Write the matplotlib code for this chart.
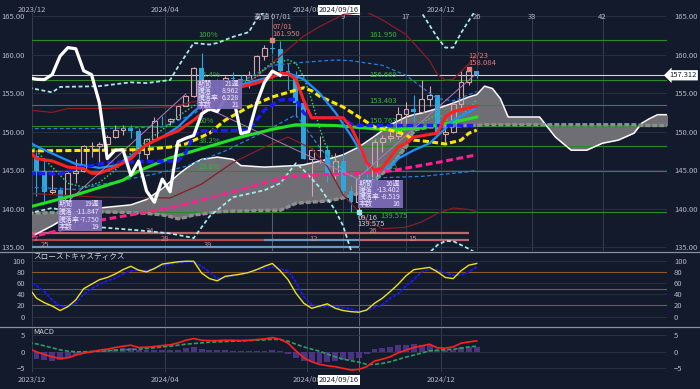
import numpy as np
import matplotlib.pyplot as plt
from matplotlib.lines import Line2D
from matplotlib.patches import Rectangle
from matplotlib.ticker import FormatStrFormatter

plt.rcParams['font.family'] = ['Noto Sans CJK JP', 'DejaVu Sans']

# weekly candles, week 0 = 2023-12-04 ... week 56 = 2024-12-30
opens = [146.8, 144.9, 142.15, 142.4, 141.0, 144.6, 144.9, 148.1, 148.15, 148.4,
         149.3, 150.2, 150.5, 150.1, 147.1, 149.0, 151.4, 151.35, 151.6, 153.3,
         154.6, 158.3, 152.9, 155.8, 155.65, 157.0, 156.8, 156.75, 157.4, 159.8,
         160.9, 160.75, 157.9, 157.4, 153.75, 146.5, 147.6, 147.65, 144.35, 146.2,
         142.3, 140.85, 143.85, 142.2, 148.7, 149.15, 149.5, 152.3, 152.95, 152.6,
         154.3, 154.7, 149.75, 150.0, 153.65, 156.4, 157.85]
highs = [147.3, 146.6, 144.95, 142.8, 145.0, 146.4, 148.3, 148.7, 148.6, 149.6,
         150.9, 150.8, 150.8, 150.5, 149.2, 151.85, 151.97, 151.8, 153.4, 154.8,
         158.4, 160.2, 155.95, 156.8, 157.2, 157.7, 157.3, 157.9, 159.9, 161.3,
         161.95, 161.7, 158.9, 157.9, 154.2, 147.9, 149.4, 148.3, 147.2, 147.2,
         143.1, 144.5, 146.5, 149.0, 149.55, 150.3, 153.2, 153.9, 154.7, 156.75,
         155.9, 154.75, 151.2, 154.0, 157.9, 158.084, 157.9]
lows = [141.6, 140.95, 141.9, 140.25, 140.8, 143.4, 144.8, 146.65, 145.9, 147.6,
        149.2, 149.6, 149.2, 146.5, 146.5, 148.9, 150.8, 150.8, 151.6, 153.3,
        154.5, 151.9, 152.7, 153.6, 155.4, 155.4, 154.55, 155.7, 157.2, 159.3,
        160.2, 157.4, 155.4, 151.9, 146.4, 141.7, 145.9, 143.45, 143.8, 141.75,
        139.6, 139.575, 142.0, 141.65, 147.35, 148.85, 149.1, 151.0, 151.3, 152.6,
        153.3, 149.5, 148.65, 149.8, 153.1, 156.0, 157.0]
closes = [144.9, 142.15, 142.4, 141.0, 144.6, 144.9, 148.1, 148.15, 148.4, 149.3,
          150.2, 150.5, 150.1, 147.1, 149.0, 151.4, 151.35, 151.6, 153.3, 154.6,
          158.3, 152.9, 155.8, 155.65, 157.0, 156.8, 156.75, 157.4, 159.8, 160.9,
          160.75, 157.9, 157.4, 153.75, 146.5, 147.6, 147.65, 144.35, 146.2, 142.3,
          140.85, 143.85, 142.2, 148.7, 149.15, 149.5, 152.3, 152.95, 152.6, 154.3,
          154.7, 149.75, 150.0, 153.65, 156.4, 157.85, 157.312]

# ichimoku cloud (leading spans, already shifted forward)
cloud_wk = [-1, 2, 4, 8, 12, 14, 16, 17, 18, 19, 20, 21, 23, 25, 26, 29, 31, 33, 34, 37,
            39, 41, 43, 45, 47, 48, 49, 50, 51, 53, 55, 56, 57, 58, 59, 60, 64, 65, 66, 68,
            70, 72, 74, 76, 77, 78, 79, 81]
span_a = [136.2, 137.8, 139.0, 140.1, 140.5, 141.2, 142.6, 143.5, 144.4, 145.2, 145.9, 146.4,
          146.7, 146.4, 145.6, 145.4, 145.5, 145.6, 145.7, 146.4, 147.0, 148.0, 149.4, 150.9,
          151.9, 152.2, 152.4, 152.7, 153.0, 153.7, 154.5, 154.8, 155.9, 155.6, 154.3, 151.9,
          151.9, 150.6, 149.3, 147.6, 147.6, 148.5, 148.9, 149.8, 151.1, 151.7, 152.2, 152.2]
span_b = [139.4, 139.5, 139.5, 139.6, 139.5, 139.4, 139.2, 139.0, 138.7, 138.9, 139.2, 139.3,
          139.6, 139.7, 139.7, 139.8, 139.8, 140.7, 140.8, 141.0, 141.4, 142.0, 143.7, 145.4,
          148.0, 150.2, 150.4, 150.6, 150.6, 150.7, 150.8, 150.8, 150.9, 150.9, 150.9, 150.9,
          150.9, 150.9, 150.9, 150.9, 150.9, 150.9, 150.9, 150.9, 150.8, 150.8, 150.8, 150.8]

tenkan_wk = [-1, 0, 2, 4, 6, 7, 8, 10, 12, 13, 14, 16, 18, 20, 21, 23, 26, 28, 30, 31,
             32, 33, 34, 35, 39, 40, 41, 42, 43, 44, 45, 46, 47, 48, 51, 52, 53, 55, 56]
tenkan = [147.6, 146.5, 146.2, 145.4, 145.2, 144.6, 144.6, 145.4, 146.5, 147.5, 148.3, 149.3,
          150.1, 151.5, 152.3, 154.3, 155.8, 156.3, 157.1, 157.6, 157.5, 156.8, 154.0, 151.8,
          151.8, 150.6, 148.5, 146.0, 145.0, 145.3, 146.7, 148.0, 148.5, 149.3, 149.8, 151.9,
          152.6, 153.1, 153.3]
kijun_wk = [-1, 3, 5, 7, 9, 18, 19, 20, 21, 27, 28, 29, 31, 33, 34, 35, 39, 40, 41, 56]
kijun = [144.6, 144.5, 145.2, 145.6, 146.0, 146.2, 147.3, 149.6, 150.1, 150.2, 151.5, 152.8,
         154.1, 154.2, 152.4, 151.8, 151.8, 151.0, 150.8, 150.8]

ma26_wk = [-1, 10, 14, 17, 19, 22, 24, 27, 30, 33, 34, 35, 36, 39, 41, 43, 45, 47, 48, 50,
           52, 54, 55, 56]
ma26 = [147.5, 147.6, 147.7, 148.0, 148.4, 149.8, 151.5, 153.2, 154.5, 155.4, 155.7, 155.3,
        154.6, 153.2, 151.9, 150.6, 150.2, 149.6, 148.9, 148.7, 148.4, 148.9, 149.8, 150.2]
ma52_wk = [-1, 5, 11, 13, 17, 22, 26, 30, 33, 38, 45, 49, 52, 56]
ma52 = [140.2, 141.8, 143.7, 144.9, 146.6, 148.1, 149.3, 150.3, 150.9, 150.8, 150.2, 150.5,
        151.0, 151.9]
ma104_wk = [-1, 3, 8, 17, 25, 32, 41, 45, 51, 56]
ma104 = [136.3, 137.2, 138.5, 140.1, 142.2, 144.2, 144.6, 144.9, 146.0, 147.0]
ma13_wk = [-1, 0, 3, 5, 8, 10, 12, 14, 16, 18, 20, 23, 26, 29, 32, 33, 34, 36, 38, 40, 41,
           42, 43, 45, 46, 48, 50, 52, 53, 55, 56]
ma13 = [148.7, 148.1, 146.7, 145.8, 145.3, 145.6, 146.8, 148.3, 149.3, 150.6, 152.6, 155.0,
        156.1, 156.9, 157.6, 157.2, 156.8, 155.0, 152.5, 149.5, 147.8, 146.2, 145.2, 145.4,
        146.5, 147.6, 148.5, 150.4, 151.5, 152.5, 153.2]
ma5_wk = [-1, 2, 4, 6, 8, 10, 12, 15, 17, 18, 21, 25, 28, 29, 30, 32, 33, 34, 35, 36, 37,
          39, 41, 42, 43, 45, 47, 49, 51, 53, 55, 56]
ma5 = [148.5, 145.4, 143.3, 142.8, 143.4, 145.0, 147.2, 149.5, 151.0, 152.0, 154.0, 155.7,
       157.1, 158.2, 158.9, 159.3, 158.9, 157.1, 154.1, 150.5, 147.6, 145.0, 143.7, 143.3,
       143.6, 145.4, 148.5, 151.1, 152.3, 151.0, 153.0, 154.1]

# bollinger bands
bb3u_wk = [-1, 2, 3, 8, 12, 14, 17, 18, 20, 22, 23, 25, 27, 28, 29, 31, 40, 47, 49, 51, 52,
           53, 54, 55, 56]
bb3u = [155.7, 155.1, 155.8, 155.9, 156.4, 156.3, 156.7, 158.4, 161.5, 161.3, 161.5, 162.3,
        162.9, 164.6, 165.6, 167.5, 172.0, 168.0, 165.4, 162.2, 160.9, 160.9, 162.8, 164.4,
        166.0]
bb3l_wk = [-1, 2, 4, 8, 13, 17, 20, 22, 25, 29, 31, 33, 34, 36, 38, 39, 40, 45, 50, 51, 52,
           53, 55, 56]
bb3l = [139.4, 140.1, 139.6, 137.6, 137.2, 136.8, 136.2, 139.0, 141.5, 142.4, 143.3, 145.9,
        145.0, 142.8, 139.8, 137.8, 134.6, 130.0, 134.3, 135.3, 135.8, 135.8, 134.8, 134.2]
bb2u_wk = [-1, 2, 4, 8, 17, 21, 25, 27, 29, 32, 34, 36, 39, 42, 44, 47, 50, 51, 52, 53, 54,
           55, 56]
bb2u = [152.8, 152.5, 153.0, 153.0, 153.2, 154.1, 155.0, 156.4, 158.0, 160.7, 162.4, 163.6,
        165.2, 165.5, 164.5, 162.6, 159.2, 157.4, 156.7, 156.8, 157.8, 158.8, 159.9]
bb2l_wk = [-1, 8, 17, 21, 25, 29, 32, 35, 37, 39, 42, 44, 47, 49, 51, 53, 55, 56]
bb2l = [142.0, 141.5, 141.4, 143.2, 146.0, 148.0, 149.3, 147.8, 145.5, 141.8, 138.5, 137.4,
        137.6, 138.3, 139.4, 140.1, 139.9, 139.6]
bb1u_wk = [-1, 8, 16, 20, 23, 27, 30, 34, 38, 40, 44, 47, 50, 51, 53, 56]
bb1u = [150.4, 150.4, 150.6, 152.3, 154.5, 157.0, 158.6, 159.0, 159.3, 159.2, 158.6, 157.3,
        155.0, 154.3, 154.0, 155.2]
bb1l_wk = [-1, 5, 10, 15, 19, 24, 29, 33, 36, 38, 40, 43, 49, 55, 56]
bb1l = [142.8, 142.5, 143.5, 144.5, 145.5, 147.5, 150.0, 152.2, 148.0, 145.5, 143.7, 144.0,
        144.2, 144.8, 145.0]

fib_levels = [161.950, 156.669, 153.403, 150.763, 148.116, 144.855, 139.575]
# percentage tags that are not hidden behind the info box
fib_tags = [(161.950, '100%'), (156.669, '76.4%'), (150.763, '50%'), (148.116, '38.2%'),
            (144.855, '23.6%')]

# trend lines: (week, price) end points
trend_lines = [((3, 140.0), (19, 154.9)), ((21, 153.4), (41, 143.8)),
               ((41, 144.1), (56, 157.6))]

# time-span bars: (start, end, level, color)
span_bars = [(-1, 55, 136.85, '#c0666a'), (-1, 29, 135.89, '#b0474d'),
             (29, 41, 135.89, '#6a98bf'), (41, 55, 135.89, '#c0666a'),
             (-1, 41, 135.08, '#6a98bf')]
span_labels = [('34', 14.4, 136.85), ('26', 42.8, 136.85), ('7', -0.1, 135.89),
               ('28', 16.4, 135.89), ('12', 35.2, 135.89), ('15', 47.8, 135.89),
               ('25', 1.1, 135.08), ('39', 21.8, 135.08)]

# info boxes: (left wk, right wk, top, bottom, values)
box_rows = ['期間', '騰落', '騰落率', '本数']
info_boxes = [(2.7, 8.3, 141.1, 137.1, ['19週', '-11.847', '-7.750', '19']),
              (20.4, 26.1, 156.7, 153.0, ['21週', '8.962', '6.228', '21']),
              (40.9, 46.6, 143.7, 140.15, ['16週', '-13.402', '-8.519', '16'])]

# slow stochastics, weeks -1..56
stoch_k = [52, 33, 25, 19, 11, 18, 30, 50, 58, 66, 70, 76, 84, 90, 83, 80, 86, 94, 96, 98,
           99, 99, 78, 68, 64, 72, 74, 76, 79, 84, 90, 95, 82, 66, 42, 24, 15, 19, 23, 15,
           11, 9, 8, 12, 24, 33, 45, 58, 73, 84, 86, 88, 80, 70, 68, 82, 92, 95]
stoch_d = [65, 55, 45, 30, 19, 18, 24, 40, 50, 58, 64, 69, 76, 82, 83, 82, 86, 91, 94, 96,
           98, 98, 90, 80, 68, 70, 73, 76, 79, 83, 86, 89, 85, 82, 62, 35, 22, 18, 18, 18,
           16, 14, 9, 11, 17, 21, 33, 41, 55, 66, 80, 85, 83, 78, 74, 74, 80, 89]
# MACD, weeks -1..56
macd = [1.0, 0.0, -0.8, -1.5, -2.0, -1.8, -1.0, -0.4, 0.0, 0.5, 0.8, 1.3, 1.7, 2.0, 1.3, 1.4,
        1.6, 1.9, 2.1, 2.7, 3.5, 4.0, 3.5, 3.4, 3.4, 3.5, 3.5, 3.4, 3.5, 3.7, 3.9, 4.3, 3.8,
        2.6, 0.3, -1.8, -3.0, -3.8, -4.2, -4.5, -5.0, -5.5, -5.3, -4.5, -2.8, -2.2, -1.5,
        -0.3, 0.5, 1.3, 1.8, 2.3, 1.2, 1.1, 1.5, 2.6, 3.0, 3.3]
signal = [2.7, 2.4, 1.8, 1.2, 0.6, 0.2, 0.0, 0.0, 0.1, 0.2, 0.3, 0.5, 0.6, 0.7, 0.8, 1.0,
          1.2, 1.5, 1.7, 2.0, 2.3, 2.5, 2.7, 2.9, 3.0, 3.1, 3.2, 3.3, 3.4, 3.5, 3.6, 3.8, 3.7,
          3.2, 2.3, 1.5, 0.8, 0.2, -0.7, -1.5, -2.2, -2.7, -3.1, -3.8, -3.8, -3.5, -3.0,
          -2.3, -1.6, -1.0, -0.4, 0.3, 0.5, 0.6, 0.8, 1.1, 1.5, 1.7]
hist = [-1.6, -2.2, -2.6, -2.7, -2.6, -2.0, -1.0, -0.4, -0.1, 0.3, 0.5, 0.8, 1.1, 1.3, 0.5,
        0.4, 0.4, 0.4, 0.4, 0.7, 1.2, 1.5, 0.8, 0.5, 0.4, 0.4, 0.3, 0.1, 0.1, 0.2, 0.3, 0.5,
        0.1, -0.6, -2.0, -2.8, -3.2, -3.3, -3.0, -2.7, -2.5, -2.4, -2.0, -0.7, 1.0, 1.3, 1.5,
        2.0, 2.1, 2.3, 2.2, 2.0, 0.7, 0.5, 0.7, 1.5, 1.5, 1.6]

date_ticks = [(-0.57, '2023/12'), (16.4, '2024/04'), (34.4, '2024/08'), (51.5, '2024/12')]
count_ticks = [(39, '9'), (47, '17'), (56, '26'), (63, '33'), (72, '42')]

W, H = 700, 389
BG = '#131a2c'
GRID = '#2b3244'
TXT = '#b4b8c4'
UP = '#d4a6ab'
DN = '#2ea6dc'

fig = plt.figure(figsize=(W / 100, H / 100), dpi=100, facecolor=BG)
ax = fig.add_axes([32 / W, 1 - 251 / H, 635 / W, 238 / H])
ax_s = fig.add_axes([32 / W, 1 - 326 / H, 635 / W, 74 / H])
ax_m = fig.add_axes([32 / W, 1 - 372 / H, 635 / W, 45 / H])

for a in (ax, ax_s, ax_m):
    a.set_facecolor(BG)
    a.set_xlim(-0.57, 80.2)
    a.set_xticks([])
    for s in a.spines.values():
        s.set_visible(False)
    a.tick_params(axis='y', left=False, right=False, labelleft=True, labelright=True,
                  labelsize=5.5, labelcolor=TXT, pad=1.5)
    a.grid(axis='y', color=GRID, lw=0.6)
    a.set_axisbelow(True)
    for x, _ in date_ticks:
        a.axvline(x, color='#363d4f', lw=0.7, zorder=0.5)
    a.axvline(41, color='#5c6374', lw=0.7, zorder=0.5)

# ---------------- main panel ----------------
ax.set_ylim(134.52, 165.39)
ax.set_yticks(np.arange(135, 166, 5))
ax.yaxis.set_major_formatter(FormatStrFormatter('%.2f'))
for x, _ in count_ticks:
    ax.axvline(x, color='#363d4f', lw=0.7, zorder=0.5)
ax.axvline(30, color='#555c6c', lw=0.8, zorder=0.5)

ax.fill_between(cloud_wk, span_a, span_b, color='#6e6e74', lw=0, zorder=1, interpolate=True)
ax.plot(cloud_wk, span_a, color='white', lw=1.1, zorder=2.5)
ax.plot(cloud_wk, span_b, color='#8e8e8e', lw=2.4, dashes=(1.5, 0.6), zorder=2.5)

for lv in fib_levels:
    ax.axhline(lv, color='#2b8a2b', lw=0.8, zorder=2)
    if lv == fib_levels[-1]:
        ax.text(43.7, lv, f'{lv:.3f}', color='#3fb03f', fontsize=5.5, va='top', zorder=2.2)
    else:
        ax.text(42.3, lv + 0.1, f'{lv:.3f}', color='#3fb03f', fontsize=5.5, va='bottom',
                zorder=2.2)
for lv, name in fib_tags:
    ax.text(20.6, lv + 0.1, name, color='#3fb03f', fontsize=5.5, va='bottom', zorder=2.2)
ax.axhline(closes[-1], color='#d6d6d6', lw=0.8, zorder=2)

for x0, x1, lv, col in span_bars:
    ax.plot([x0, x1], [lv, lv], color=col, lw=1.6, zorder=2, solid_capstyle='butt')
for lab, x, lv in span_labels:
    ax.text(x, lv + 0.22, lab, color='#c98a8c', fontsize=5.5, ha='center', va='center',
            zorder=2.2)

# candles
weeks = np.arange(len(closes))
o, h, l, c = map(np.array, (opens, highs, lows, closes))
up = c >= o
ax.vlines(weeks[up], l[up], np.minimum(o, c)[up], color=UP, lw=0.8, zorder=3)
ax.vlines(weeks[up], np.maximum(o, c)[up], h[up], color=UP, lw=0.8, zorder=3)
ax.bar(weeks[up], (c - o)[up], bottom=o[up], width=0.62, facecolor='none',
       edgecolor=UP, lw=0.8, zorder=3)
ax.vlines(weeks[~up], l[~up], h[~up], color=DN, lw=0.8, zorder=3)
ax.bar(weeks[~up], (o - c)[~up], bottom=c[~up], width=0.62, color=DN, lw=0, zorder=3)

# bands and moving averages
ax.plot(bb3u_wk, bb3u, color='#a8e8ea', lw=1.3, dashes=(2.2, 1.4), zorder=4)
ax.plot(bb3l_wk, bb3l, color='#a8e8ea', lw=1.3, dashes=(2.2, 1.4), zorder=4)
ax.plot(bb2u_wk, bb2u, color='#8a1d26', lw=0.9, zorder=4)
ax.plot(bb2l_wk, bb2l, color='#8a1d26', lw=0.9, zorder=4)
ax.plot(bb1u_wk, bb1u, color='#2a7fd4', lw=0.9, dashes=(3, 2), zorder=4)
ax.plot(bb1l_wk, bb1l, color='#2a7fd4', lw=0.9, dashes=(3, 2), zorder=4)
ax.plot(ma5_wk, ma5, color='#2ecc71', lw=1.1, linestyle=(0, (1, 1.3)), zorder=4)
ax.plot(ma104_wk, ma104, color='#ff1f8f', lw=2.2, dashes=(2.2, 1.2), zorder=5)
ax.plot(ma52_wk, ma52, color='#22e022', lw=2.2, zorder=5)
ax.plot(ma26_wk, ma26, color='#ffe600', lw=2.2, dashes=(2, 1), zorder=5)
ax.plot(ma13_wk, ma13, color='#1e90ff', lw=1.6, zorder=5)
ax.plot(kijun_wk, kijun, color='#1a1aff', lw=2.4, dashes=(2, 1), zorder=6)
ax.plot(tenkan_wk, tenkan, color='#ff2020', lw=2.2, zorder=6)

for (x0, y0), (x1, y1) in trend_lines:
    ax.plot([x0, x1], [y0, y1], color='#b07ab8', lw=0.7, zorder=6.5)

# lagging span: close drawn 25 weeks back
ax.plot(np.arange(-1, len(closes) - 25), closes[24:], color='white', lw=2.3, zorder=7)

# highs / lows
ax.plot(30, 161.95, 's', ms=2.2, color='#e88080', zorder=8)
ax.text(30, 163.57, '07/01', color='#e87878', fontsize=5.5, va='center', zorder=8)
ax.text(30, 162.73, '161.950', color='#e87878', fontsize=5.5, va='center', zorder=8)
ax.plot(55, 158.084, 's', ms=2.2, color='#e88080', zorder=8)
ax.text(54.9, 159.81, '12/23', color='#e87878', fontsize=5.5, va='center', zorder=8)
ax.text(54.9, 158.87, '158.084', color='#e87878', fontsize=5.5, va='center', zorder=8)
ax.plot(41, 139.575, 's', ms=2.2, color='#9fe6e6', zorder=8)
ax.text(40.8, 138.85, '09/16', color='#c8ccd8', fontsize=5.5, va='center', zorder=8)
ax.text(40.8, 138.0, '139.575', color='#c8ccd8', fontsize=5.5, va='center', zorder=8)

for x0, x1, top, bot, vals in info_boxes:
    ax.add_patch(Rectangle((x0, bot), x1 - x0, top - bot, facecolor='#7d6cb6',
                           edgecolor='none', alpha=0.95, zorder=8))
    step = (top - bot) / 4
    for k, (lab, val) in enumerate(zip(box_rows, vals)):
        yy = top - step * (k + 0.5)
        ax.text(x0 + 0.15, yy, lab, color='#ece6ff', fontsize=5, va='center', zorder=9)
        ax.text(x1 - 0.3, yy, val, color='#ece6ff', fontsize=5, va='center', ha='right',
                zorder=9)

# top labels
for x, lab in date_ticks:
    ax.text(x, 1.013, lab, transform=ax.get_xaxis_transform(), color=TXT, fontsize=5.5,
            ha='center', va='center', clip_on=False)
for x, lab in count_ticks:
    ax.text(x, 0.983, lab, transform=ax.get_xaxis_transform(), color=TXT, fontsize=5.5,
            ha='center', va='center')
ax.text(30, 0.983, '高値 07/01', transform=ax.get_xaxis_transform(), color='#b8bcc8',
        fontsize=5.5, ha='center', va='center', zorder=9)
ax.text(41, 1.013, '2024/09/16', transform=ax.get_xaxis_transform(), color='#1c2030',
        fontsize=5.5, ha='right', va='center', clip_on=False,
        bbox=dict(boxstyle='square,pad=0.15', fc='white', ec='none'))
ax.text(80.5, closes[-1], f'{closes[-1]:.3f}', color='#1c2030', fontsize=5.5,
        ha='left', va='center', clip_on=False, zorder=10,
        bbox=dict(boxstyle='larrow,pad=0.15', fc='white', ec='none'))

# ---------------- stochastics ----------------
wk2 = np.arange(-1, len(closes))
ax_s.set_ylim(-16.6, 115.5)
ax_s.set_yticks([0, 20, 40, 60, 80, 100])
for lv in (20, 50, 80):
    ax_s.axhline(lv, color='#8b5a24', lw=0.8, zorder=1)
ax_s.plot(wk2, stoch_d, color='#1a1aff', lw=1.2, dashes=(2, 0.8), zorder=3)
ax_s.plot(wk2, stoch_k, color='#f0e020', lw=1.0, zorder=4)
ax_s.text(0.002, 0.93, 'スローストキャスティクス', transform=ax_s.transAxes, color='#d0d4dc',
          fontsize=5.5, va='center')

# ---------------- MACD ----------------
ax_m.set_ylim(-6.1, 7.5)
ax_m.set_yticks([-5, 0, 5])
ax_m.bar(wk2, hist, width=0.75, color='#51388c', alpha=0.9, zorder=2)
ax_m.plot(wk2, signal, color='#2e9e5e', lw=1.2, dashes=(2.5, 1.2), zorder=3)
ax_m.plot(wk2, macd, color='#ff2020', lw=1.2, zorder=4)
ax_m.text(0.002, 0.88, 'MACD', transform=ax_m.transAxes, color='#d0d4dc', fontsize=5.5,
          va='center')
for x, lab in date_ticks:
    ax_m.text(x, -0.18, lab, transform=ax_m.get_xaxis_transform(), color=TXT, fontsize=5.5,
              ha='center', va='center', clip_on=False)
ax_m.text(41, -0.18, '2024/09/16', transform=ax_m.get_xaxis_transform(), color='#1c2030',
          fontsize=5.5, ha='right', va='center', clip_on=False,
          bbox=dict(boxstyle='square,pad=0.15', fc='white', ec='none'))

# panel separators
for yy in (251.5, 326.5):
    fig.add_artist(Line2D([0, 1], [1 - yy / H, 1 - yy / H], color='#8a909c', lw=0.9))

fig.savefig('out.png', dpi=100, facecolor=BG)
